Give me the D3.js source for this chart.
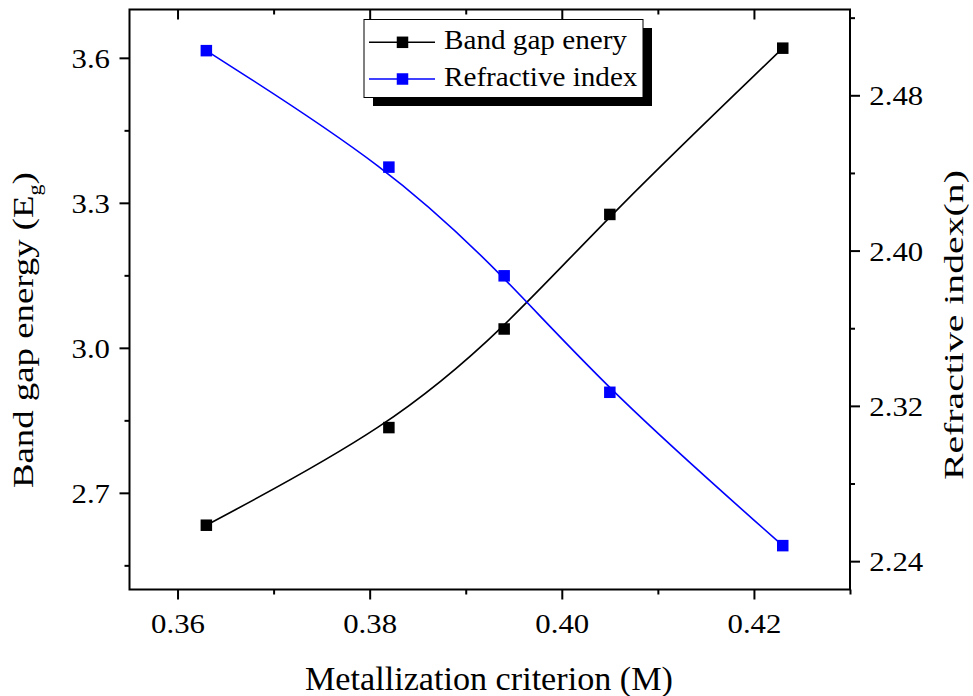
<!DOCTYPE html>
<html>
<head>
<meta charset="utf-8">
<script src="https://cdn.jsdelivr.net/npm/d3@7/dist/d3.min.js"></script>
<style>
  html, body { margin: 0; padding: 0; background: #fff; }
  svg { display: block; }
</style>
</head>
<body>
<svg id="chart" width="973" height="696"></svg>
<script>
// ---- data ----
const metallization = [0.363, 0.382, 0.394, 0.405, 0.423];
const bandGap = [2.633, 2.835, 3.039, 3.276, 3.620];
const refractive = [2.503, 2.443, 2.387, 2.327, 2.248];

const xMajor = [0.36, 0.38, 0.40, 0.42];
const xMinor = [0.37, 0.39, 0.41, 0.43];
const leftMajor = [2.7, 3.0, 3.3, 3.6];
const leftMinor = [2.55, 2.85, 3.15, 3.45];
const rightMajor = [2.24, 2.32, 2.40, 2.48];
const rightMinor = [2.28, 2.36, 2.44, 2.52];

const seriesNames = ["Band gap enery", "Refractive index"];
const xTitle = "Metallization criterion (M)";
const rightTitle = "Refractive index(n)";

// ---- layout ----
const FONT = "'Liberation Serif', 'Times New Roman', serif";
const L = 129.5, R = 850, T = 9.5, B = 589.5;
const svg = d3.select("#chart");

const x = d3.scaleLinear().domain([0.355, 0.430]).range([L, R]);
const yL = d3.scaleLinear().domain([2.5, 3.7]).range([B, T]);
const yR = d3.scaleLinear().domain([2.2254, 2.5242]).range([B, T]);

function fit(sel, target) {
  const len = sel.node().getComputedTextLength();
  return target / len;
}

const tickFont = 28, tickFx = 1.1;

// bottom axis
const gB = svg.append("g").attr("transform", `translate(0,${B})`);
gB.call(d3.axisBottom(x).tickValues(xMajor).tickSize(10).tickFormat(d3.format(".2f")));
const gBm = svg.append("g").attr("transform", `translate(0,${B})`);
gBm.call(d3.axisBottom(x).tickValues(xMinor).tickSize(5).tickFormat(""));
gB.selectAll(".tick text").attr("x", null).attr("y", null).attr("dy", null)
  .attr("transform", `translate(0,${633.3 - B}) scale(${tickFx},1)`)
  .style("font-size", tickFont + "px").attr("text-anchor", "middle");

// top axis (inward)
const gT = svg.append("g").attr("transform", `translate(0,${T})`);
gT.call(d3.axisTop(x).tickValues(xMajor).tickSize(-10).tickFormat(""));
const gTm = svg.append("g").attr("transform", `translate(0,${T})`);
gTm.call(d3.axisTop(x).tickValues(xMinor.filter(v => v < 0.43)).tickSize(-5).tickFormat(""));

// left axis
const gL = svg.append("g").attr("transform", `translate(${L},0)`);
gL.call(d3.axisLeft(yL).tickValues(leftMajor).tickSize(10).tickFormat(d3.format(".1f")));
const gLm = svg.append("g").attr("transform", `translate(${L},0)`);
gLm.call(d3.axisLeft(yL).tickValues(leftMinor).tickSize(5).tickFormat(""));
gL.selectAll(".tick text").attr("x", null).attr("dy", "0.34em")
  .attr("transform", `translate(${110 - L},0) scale(${tickFx},1)`)
  .style("font-size", tickFont + "px").attr("text-anchor", "end");

// right axis
const gR = svg.append("g").attr("transform", `translate(${R},0)`);
gR.call(d3.axisRight(yR).tickValues(rightMajor).tickSize(10).tickFormat(d3.format(".2f")));
const gRm = svg.append("g").attr("transform", `translate(${R},0)`);
gRm.call(d3.axisRight(yR).tickValues(rightMinor).tickSize(5).tickFormat(""));
gR.selectAll(".tick text").attr("x", null).attr("dy", "0.34em")
  .attr("transform", `translate(${869.3 - R},0) scale(${tickFx},1)`)
  .style("font-size", tickFont + "px").attr("text-anchor", "start");

svg.selectAll("g").attr("font-family", FONT);
svg.selectAll(".tick text").style("font-family", FONT).attr("fill", "#000");
svg.selectAll(".domain").remove();
svg.selectAll(".tick line").attr("stroke", "#000").attr("stroke-width", 2);

// frame
svg.append("rect").attr("x", L).attr("y", T).attr("width", R - L).attr("height", B - T)
  .attr("fill", "none").attr("stroke", "#000").attr("stroke-width", 2);

// curves (B-spline as in the source plot)
const pts1 = metallization.map((m, i) => [x(m), yL(bandGap[i])]);
const pts2 = metallization.map((m, i) => [x(m), yR(refractive[i])]);
const line = d3.line().curve(d3.curveBasis);

svg.append("path").attr("d", line(pts1)).attr("fill", "none").attr("stroke", "#000").attr("stroke-width", 1.6);
svg.append("path").attr("d", line(pts2)).attr("fill", "none").attr("stroke", "#0000ff").attr("stroke-width", 1.6);

const ms = 11.5;
svg.append("g").selectAll("rect").data(pts1).join("rect")
  .attr("x", d => d[0] - ms / 2).attr("y", d => d[1] - ms / 2)
  .attr("width", ms).attr("height", ms).attr("fill", "#000");
svg.append("g").selectAll("rect").data(pts2).join("rect")
  .attr("x", d => d[0] - ms / 2).attr("y", d => d[1] - ms / 2)
  .attr("width", ms).attr("height", ms).attr("fill", "#0000ff");

// legend
const lg = svg.append("g");
lg.append("rect").attr("x", 373).attr("y", 28).attr("width", 279).attr("height", 78).attr("fill", "#000");
lg.append("rect").attr("x", 364).attr("y", 19.5).attr("width", 279).attr("height", 78)
  .attr("fill", "#fff").attr("stroke", "#000").attr("stroke-width", 1);
const legColors = ["#000", "#0000ff"];
const rowY = [42.3, 79];
const baseY = [49.3, 86];
seriesNames.forEach((name, i) => {
  lg.append("line").attr("x1", 369).attr("x2", 435).attr("y1", rowY[i]).attr("y2", rowY[i])
    .attr("stroke", legColors[i]).attr("stroke-width", 1.6);
  lg.append("rect").attr("x", 402.5 - ms / 2).attr("y", rowY[i] - ms / 2).attr("width", ms).attr("height", ms)
    .attr("fill", legColors[i]);
  const t = lg.append("text").attr("x", 0).attr("y", 0)
    .style("font-family", FONT).style("font-size", "27px").text(name);
  t.attr("transform", `translate(444,${baseY[i]}) scale(1.08,1)`);
});

// x title
const xt = svg.append("text").style("font-family", FONT).style("font-size", "33px").text(xTitle);
xt.attr("transform", `translate(305,690) scale(${fit(xt, 368)},1)`);

// left title
const lt = svg.append("text").style("font-family", FONT).style("font-size", "30px");
lt.append("tspan").text("Band gap energy (E");
lt.append("tspan").attr("dy", "8").style("font-size", "18px").text("g");
lt.append("tspan").attr("dy", "-8").text(")");
lt.attr("transform", `translate(33.3,488) rotate(-90) scale(${fit(lt, 316)},1)`);

// right title
const rt = svg.append("text").style("font-family", FONT).style("font-size", "28px").text(rightTitle);
rt.attr("transform", `translate(963.3,480) rotate(-90) scale(${fit(rt, 310)},1)`);
</script>
</body>
</html>
